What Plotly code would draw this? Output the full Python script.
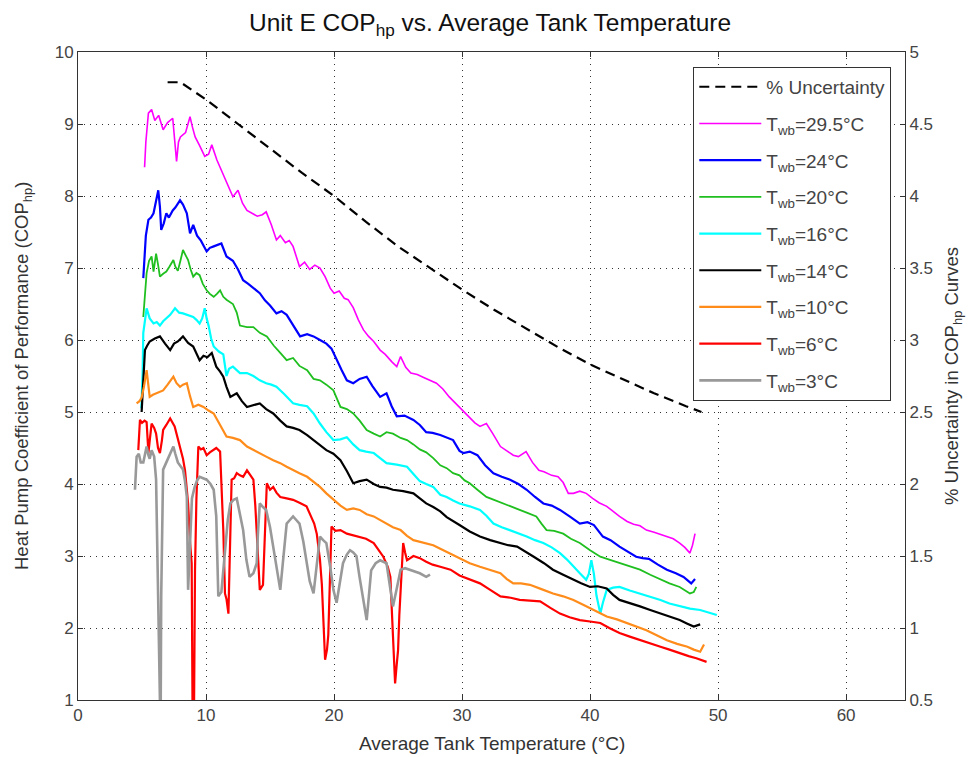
import plotly.graph_objects as go

# ---------------- data ----------------
uncertainty = [(7.0,4.79),(8.0,4.79),(9.0,4.73),(10.0,4.67),(12.5,4.50),(15.0,4.33),(17.5,4.16),
               (20.0,4.00),(22.5,3.82),(25.0,3.65),(27.5,3.50),(30.0,3.35),(32.5,3.21),(35.0,3.08),
               (37.5,2.95),(40.0,2.83),(42.5,2.73),(45.0,2.63),(47.5,2.54),(48.7,2.50)]

t295 = [(5.2,8.40),(5.3,8.75),(5.5,9.15),(5.75,9.20),(6.0,9.05),(6.3,9.12),(6.65,8.92),(7.0,9.02),
        (7.4,9.08),(7.55,8.80),(7.7,8.48),(7.85,8.75),(8.0,8.82),(8.4,8.88),(8.75,9.10),(8.95,8.95),
        (9.15,8.82),(9.5,8.70),(9.9,8.55),(10.2,8.58),(10.45,8.71),(10.85,8.50),(11.2,8.35),(11.6,8.20),
        (12.1,7.99),(12.5,8.08),(12.85,7.90),(13.2,7.80),(13.6,7.76),(14.0,7.72),(14.4,7.74),(14.7,7.78),
        (15.1,7.60),(15.5,7.39),(15.8,7.45),(16.2,7.35),(16.5,7.38),(16.8,7.30),(17.3,7.02),(17.7,7.08),
        (18.1,6.98),(18.5,7.04),(18.9,7.00),(19.3,6.88),(19.7,6.72),(20.0,6.65),(20.4,6.68),(20.8,6.58),
        (21.1,6.56),(21.5,6.45),(21.9,6.28),(22.3,6.14),(22.7,6.05),(23.1,5.98),(23.6,5.86),(24.0,5.80),
        (24.5,5.70),(24.9,5.63),(25.2,5.77),(25.6,5.62),(26.0,5.54),(26.5,5.52),(27.0,5.48),(27.5,5.44),
        (28.0,5.40),(28.5,5.32),(29.0,5.21),(29.5,5.12),(30.0,5.03),(30.5,4.95),(31.0,4.85),(31.4,4.80),
        (31.9,4.84),(32.4,4.70),(33.0,4.52),(33.5,4.46),(34.0,4.40),(34.4,4.38),(35.0,4.45),(35.5,4.30),
        (36.0,4.19),(36.4,4.17),(37.0,4.12),(37.5,4.10),(37.9,4.02),(38.3,3.87),(38.7,3.87),(39.2,3.90),
        (39.7,3.87),(40.2,3.80),(40.7,3.74),(41.3,3.69),(41.8,3.62),(42.3,3.55),(42.9,3.48),(43.4,3.44),
        (43.9,3.42),(44.4,3.36),(45.0,3.33),(45.5,3.30),(46.0,3.27),(46.5,3.24),(47.0,3.18),(47.4,3.12),
        (47.8,3.04),(48.0,3.15),(48.2,3.31)]

t24 = [(5.1,6.86),(5.15,7.05),(5.3,7.45),(5.5,7.67),(5.7,7.70),(5.9,7.76),(6.1,7.95),(6.27,8.08),
       (6.4,7.85),(6.5,7.53),(6.7,7.62),(6.9,7.76),(7.1,7.70),(7.4,7.80),(7.6,7.84),(7.97,7.94),
       (8.2,7.88),(8.5,7.76),(8.75,7.48),(9.0,7.60),(9.3,7.45),(9.6,7.38),(10.05,7.23),(10.3,7.28),
       (10.6,7.30),(10.9,7.32),(11.2,7.34),(11.6,7.16),(12.1,7.10),(12.5,6.98),(12.9,6.83),(13.3,6.78),
       (13.7,6.72),(14.2,6.65),(14.6,6.55),(15.0,6.48),(15.5,6.37),(15.9,6.40),(16.3,6.35),(16.8,6.20),
       (17.35,6.05),(17.9,6.08),(18.4,6.05),(18.9,6.00),(19.4,5.95),(19.8,5.88),(20.2,5.72),(20.6,5.58),
       (21.0,5.44),(21.5,5.40),(22.0,5.46),(22.55,5.49),(23.0,5.36),(23.6,5.21),(24.1,5.26),(24.5,5.08),
       (24.9,4.94),(25.5,4.95),(26.2,4.89),(26.7,4.82),(27.2,4.72),(27.7,4.71),(28.3,4.68),(28.8,4.64),
       (29.3,4.61),(29.8,4.46),(30.1,4.43),(30.6,4.45),(31.2,4.40),(31.8,4.26),(32.45,4.15),(33.1,4.10),
       (33.75,4.06),(34.4,4.00),(35.05,3.92),(35.7,3.82),(36.35,3.73),(37.0,3.70),(37.65,3.64),(38.4,3.55),
       (39.2,3.45),(39.8,3.47),(40.3,3.43),(41.0,3.27),(41.6,3.22),(42.3,3.13),(43.0,3.05),(43.6,2.99),
       (44.1,2.97),(44.6,2.96),(45.3,2.88),(46.0,2.81),(46.7,2.76),(47.3,2.71),(47.9,2.62),(48.2,2.68)]

t20 = [(5.1,6.32),(5.2,6.60),(5.36,6.93),(5.55,7.10),(5.75,7.16),(5.9,6.95),(6.1,7.20),(6.25,7.05),
       (6.4,6.88),(6.65,6.92),(6.9,6.95),(7.15,7.02),(7.45,7.11),(7.6,7.02),(7.8,6.96),(8.0,7.10),
       (8.2,7.25),(8.4,7.18),(8.6,7.11),(8.8,6.98),(9.0,6.88),(9.25,6.93),(9.5,6.90),(9.75,6.78),
       (10.05,6.69),(10.3,6.64),(10.6,6.60),(10.85,6.64),(11.1,6.69),(11.35,6.60),(11.6,6.56),(12.1,6.50),
       (12.4,6.38),(12.65,6.20),(13.2,6.18),(13.7,6.18),(14.2,6.10),(14.75,6.05),(15.3,5.92),(15.8,5.82),
       (16.3,5.72),(16.8,5.75),(17.3,5.64),(17.9,5.58),(18.4,5.46),(18.9,5.44),(19.4,5.38),(19.95,5.30),
       (20.5,5.07),(21.0,5.04),(21.5,4.98),(22.0,4.88),(22.55,4.75),(23.1,4.70),(23.6,4.66),(24.1,4.72),
       (24.6,4.70),(25.2,4.64),(25.7,4.61),(26.2,4.55),(26.7,4.48),(27.2,4.44),(27.75,4.36),(28.3,4.26),
       (28.8,4.22),(29.3,4.15),(29.8,4.12),(30.2,4.05),(30.6,4.01),(31.2,3.92),(31.9,3.82),(32.5,3.78),
       (33.2,3.73),(33.8,3.68),(34.5,3.64),(35.1,3.60),(35.8,3.55),(36.2,3.45),(36.6,3.36),(37.2,3.35),
       (37.9,3.31),(38.5,3.24),(39.2,3.18),(40.0,3.08),(40.8,2.99),(41.5,2.95),(42.3,2.90),(43.1,2.86),
       (43.9,2.81),(44.7,2.74),(45.5,2.67),(46.2,2.62),(47.0,2.57),(47.5,2.52),(47.8,2.48),(48.1,2.50),
       (48.3,2.57)]

t16 = [(4.95,5.05),(5.05,5.55),(5.1,6.10),(5.25,6.30),(5.36,6.44),(5.6,6.30),(5.9,6.23),(6.15,6.25),
       (6.4,6.20),(6.65,6.26),(6.9,6.30),(7.2,6.35),(7.58,6.44),(7.9,6.38),(8.2,6.37),(8.6,6.34),
       (9.0,6.32),(9.25,6.28),(9.5,6.23),(9.7,6.30),(9.9,6.44),(10.05,6.30),(10.2,6.20),(10.4,6.02),
       (10.6,5.91),(11.0,5.84),(11.35,5.80),(11.6,5.50),(11.8,5.60),(12.1,5.63),(12.65,5.54),(13.2,5.54),
       (13.7,5.50),(14.2,5.44),(14.7,5.40),(15.1,5.38),(15.5,5.35),(16.1,5.25),(16.8,5.12),(17.3,5.10),
       (17.9,5.08),(18.4,4.98),(18.9,4.84),(19.4,4.72),(19.95,4.61),(20.5,4.62),(21.0,4.65),(21.5,4.55),
       (22.0,4.47),(22.5,4.45),(23.1,4.43),(23.6,4.36),(24.1,4.29),(24.9,4.27),(25.7,4.24),(26.2,4.14),
       (26.7,4.04),(27.2,4.00),(27.75,3.96),(28.3,3.85),(28.8,3.82),(29.3,3.77),(29.8,3.73),(30.6,3.69),
       (31.4,3.64),(31.9,3.56),(32.45,3.45),(33.1,3.40),(33.75,3.36),(34.4,3.32),(35.05,3.27),(35.7,3.22),
       (36.35,3.18),(37.0,3.12),(37.65,3.04),(38.2,2.95),(38.7,2.85),(39.2,2.76),(39.7,2.67),(39.9,2.75),
       (40.1,2.94),(40.3,2.75),(40.5,2.45),(40.8,2.20),(41.0,2.35),(41.3,2.53),(41.8,2.56),(42.3,2.57),
       (43.1,2.52),(43.9,2.48),(44.7,2.43),(45.5,2.39),(46.2,2.34),(47.0,2.30),(47.8,2.27),(48.6,2.25),
       (49.3,2.21),(49.9,2.18)]

t14 = [(4.97,5.00),(5.1,5.50),(5.23,5.86),(5.4,5.92),(5.6,5.98),(6.0,6.02),(6.4,6.05),(6.8,5.95),
       (7.2,5.86),(7.5,5.95),(7.8,5.98),(8.2,6.05),(8.6,5.96),(9.0,5.91),(9.25,5.82),(9.5,5.72),
       (9.8,5.78),(10.1,5.76),(10.45,5.82),(10.8,5.63),(11.1,5.56),(11.35,5.49),(11.6,5.35),(11.9,5.21),
       (12.4,5.26),(12.8,5.15),(13.2,5.07),(13.7,5.10),(14.2,5.12),(14.7,5.04),(15.25,4.98),(15.8,4.88),
       (16.3,4.80),(16.8,4.78),(17.3,4.75),(17.9,4.68),(18.4,4.61),(18.9,4.54),(19.4,4.47),(19.95,4.42),
       (20.5,4.33),(21.0,4.18),(21.5,4.01),(22.0,4.04),(22.55,4.06),(23.1,4.00),(23.6,3.96),(24.1,3.95),
       (24.6,3.92),(25.4,3.90),(26.2,3.87),(26.7,3.80),(27.2,3.73),(27.75,3.68),(28.3,3.62),(28.8,3.54),
       (29.3,3.48),(29.8,3.43),(30.6,3.34),(31.4,3.27),(32.2,3.22),(33.0,3.18),(33.6,3.15),(34.3,3.13),
       (35.0,3.06),(35.6,2.99),(36.4,2.90),(37.1,2.81),(37.9,2.74),(38.7,2.67),(39.3,2.62),(40.0,2.57),
       (40.6,2.58),(41.3,2.55),(41.8,2.46),(42.3,2.39),(43.1,2.35),(43.9,2.30),(44.7,2.25),(45.5,2.20),
       (46.2,2.15),(47.0,2.11),(47.6,2.06),(48.1,2.02),(48.6,2.05)]

t10 = [(4.58,5.12),(4.8,5.15),(4.97,5.20),(5.15,5.35),(5.36,5.58),(5.5,5.35),(5.6,5.21),(5.85,5.24),
       (6.1,5.26),(6.4,5.28),(6.65,5.30),(7.0,5.38),(7.45,5.49),(7.7,5.40),(7.97,5.35),(8.2,5.38),
       (8.5,5.40),(8.75,5.22),(9.0,5.07),(9.4,5.10),(9.8,5.07),(10.2,5.02),(10.6,4.98),(11.1,4.82),
       (11.6,4.66),(12.1,4.64),(12.65,4.61),(13.2,4.52),(13.7,4.47),(14.2,4.42),(14.7,4.38),(15.25,4.33),
       (15.8,4.29),(16.3,4.24),(16.8,4.20),(17.3,4.15),(17.9,4.10),(18.4,4.03),(18.9,3.96),(19.4,3.87),
       (19.95,3.78),(20.5,3.70),(21.0,3.64),(21.5,3.66),(22.0,3.64),(22.55,3.58),(23.1,3.55),(23.6,3.50),
       (24.1,3.45),(24.6,3.40),(25.2,3.36),(25.7,3.28),(26.2,3.22),(26.7,3.20),(27.2,3.18),(27.75,3.15),
       (28.3,3.10),(29.0,3.04),(29.8,2.96),(30.6,2.90),(31.4,2.85),(32.2,2.80),(33.0,2.76),(33.5,2.68),
       (34.0,2.62),(34.6,2.62),(35.3,2.60),(36.2,2.54),(37.1,2.48),(37.9,2.44),(38.7,2.39),(39.5,2.32),
       (40.25,2.25),(40.8,2.20),(41.3,2.16),(42.1,2.12),(42.9,2.07),(43.6,2.02),(44.4,1.97),(45.2,1.90),
       (46.0,1.83),(46.8,1.78),(47.6,1.74),(48.1,1.70),(48.6,1.67),(48.9,1.77)]

t6 = [(4.71,4.47),(4.84,4.89),(5.0,4.85),(5.2,4.88),(5.36,4.86),(5.5,4.43),(5.6,4.60),(5.75,4.84),
      (5.95,4.78),(6.1,4.70),(6.25,4.50),(6.4,4.43),(6.55,4.60),(6.65,4.75),(6.9,4.82),(7.2,4.91),
      (7.55,4.80),(7.97,4.52),(8.2,4.35),(8.36,4.19),(8.6,3.73),(8.75,3.20),(8.88,2.90),(8.96,0.50),
      (9.05,0.50),(9.14,2.81),(9.25,3.80),(9.4,4.52),(9.6,4.48),(9.8,4.50),(10.05,4.40),(10.3,4.44),
      (10.55,4.47),(10.8,4.50),(11.1,4.45),(11.25,3.90),(11.35,3.36),(11.48,2.48),(11.6,2.40),(11.75,2.20),
      (11.85,3.00),(12.0,4.06),(12.2,4.08),(12.4,4.15),(12.65,4.12),(12.9,4.10),(13.2,4.19),(13.45,4.12),
      (13.7,4.06),(13.85,3.70),(13.96,3.36),(14.05,2.90),(14.2,2.53),(14.45,2.60),(14.6,3.30),(14.75,4.01),
      (15.0,3.92),(15.25,3.96),(15.5,3.88),(15.8,3.82),(16.3,3.80),(16.8,3.78),(17.3,3.74),(17.85,3.69),
      (18.2,3.55),(18.45,3.45),(18.65,3.31),(18.9,2.95),(19.05,2.60),(19.17,2.10),(19.3,1.56),(19.45,1.70),
      (19.55,1.90),(19.7,2.80),(19.8,3.41),(20.1,3.35),(20.5,3.36),(21.0,3.31),(21.5,3.29),(22.0,3.27),
      (22.5,3.24),(23.1,3.18),(23.5,3.08),(23.85,2.99),(24.2,2.85),(24.4,2.71),(24.5,2.30),(24.6,1.97),
      (24.77,1.23),(24.9,1.50),(25.0,1.69),(25.1,2.18),(25.25,2.80),(25.4,3.18),(25.55,3.05),(25.7,2.94),
      (26.2,3.00),(26.7,2.97),(27.2,2.92),(27.7,2.88),(28.3,2.85),(29.1,2.81),(29.8,2.73),(30.6,2.68),
      (31.4,2.62),(32.2,2.53),(33.0,2.44),(33.8,2.42),(34.5,2.39),(35.3,2.38),(36.1,2.37),(36.9,2.28),
      (37.65,2.20),(38.4,2.15),(39.2,2.11),(40.0,2.09),(40.8,2.07),(41.5,2.00),(42.3,1.93),(43.1,1.88),
      (43.9,1.83),(44.7,1.78),(45.5,1.74),(46.2,1.70),(47.0,1.65),(47.7,1.61),(48.3,1.58),(48.7,1.56),
      (49.1,1.53)]

t3 = [(4.45,3.92),(4.58,4.38),(4.75,4.42),(4.9,4.30),(5.1,4.30),(5.25,4.45),(5.36,4.52),(5.5,4.40),
      (5.6,4.35),(5.75,4.47),(5.95,4.38),(6.1,4.06),(6.2,3.08),(6.3,1.80),(6.4,0.50),(6.45,0.50),
      (6.5,2.44),(6.58,3.60),(6.65,4.20),(6.9,4.30),(7.2,4.42),(7.45,4.52),(7.6,4.42),(7.8,4.30),
      (8.0,4.25),(8.2,4.20),(8.35,4.05),(8.5,3.82),(8.6,2.53),(8.75,3.10),(8.9,3.80),(9.1,3.95),
      (9.3,4.05),(9.5,4.10),(9.8,4.08),(10.05,4.06),(10.35,4.00),(10.6,3.92),(10.8,3.55),(10.96,2.44),
      (11.2,2.50),(11.45,3.00),(11.7,3.50),(11.9,3.73),(12.15,3.78),(12.4,3.80),(12.65,3.60),(12.9,3.36),
      (13.15,2.95),(13.4,2.71),(13.7,2.76),(13.96,2.90),(14.05,3.30),(14.2,3.73),(14.45,3.68),(14.7,3.64),
      (15.0,3.40),(15.25,3.13),(15.5,2.80),(15.8,2.53),(16.0,2.90),(16.15,3.20),(16.3,3.45),(16.55,3.50),
      (16.8,3.55),(17.05,3.50),(17.3,3.45),(17.6,3.20),(17.85,2.90),(18.1,2.65),(18.4,2.48),(18.65,2.90),
      (18.9,3.27),(19.15,3.22),(19.4,3.18),(19.7,2.85),(19.95,2.53),(20.2,2.35),(20.45,2.60),(20.7,2.90),
      (21.0,3.02),(21.25,3.08),(21.5,3.05),(21.75,3.00),(22.0,2.70),(22.3,2.34),(22.55,2.11),(22.75,2.50),
      (22.9,2.80),(23.25,2.90),(23.6,2.94),(24.1,2.90),(24.35,2.60),(24.6,2.30),(24.9,2.55),(25.2,2.81),
      (25.55,2.83),(25.9,2.81),(26.3,2.78),(26.7,2.76),(27.2,2.71),(27.5,2.74)]

series_labels = ["29.5", "24", "20", "16", "14", "10", "6", "3"]
series_data = [t295, t24, t20, t16, t14, t10, t6, t3]
series_colors = ["#ff00ff", "#0000ff", "#1fbf1f", "#00ffff", "#000000", "#ff8c1a", "#ff0000", "#999999"]
series_widths = [1.6, 2.2, 1.8, 2.2, 2.2, 2.2, 2.2, 2.6]

x_ticks = [0, 10, 20, 30, 40, 50, 60]

FONT = "Liberation Sans, Arial, sans-serif"

fig = go.Figure()

ux, uy = zip(*uncertainty)
fig.add_trace(go.Scatter(x=ux, y=uy, yaxis="y2", mode="lines", name="% Uncertainty",
                         legendgroup="u", line=dict(color="black", width=2.2, dash="10px,6px")))

for lab, dat, col, w in zip(series_labels, series_data, series_colors, series_widths):
    xs, ys = zip(*dat)
    fig.add_trace(go.Scatter(x=xs, y=ys, mode="lines", name=f"T<sub>wb</sub>={lab}°C",
                             legendgroup=lab, line=dict(color=col, width=w)))

axis_common = dict(showline=True, linecolor="#333", linewidth=1, ticks="inside", ticklen=5,
                   tickcolor="#333", tickfont=dict(family=FONT, size=17, color="#444"), zeroline=False)

fig.update_layout(
    width=972, height=757,
    margin=dict(l=78, r=67, t=52, b=57),
    paper_bgcolor="white", plot_bgcolor="white",
    font=dict(family=FONT, color="#333"),
    showlegend=True,
    legend=dict(x=0.744, y=0.977, xanchor="left", yanchor="top", bgcolor="white",
                bordercolor="#333", borderwidth=1, font=dict(family=FONT, size=19, color="#444"),
                tracegroupgap=9, itemwidth=62),
    xaxis=dict(range=[0, 64.6], tickvals=x_ticks, mirror="ticks", showgrid=True,
               gridcolor="#333", griddash="1px,5px", gridwidth=1, **axis_common),
    yaxis=dict(range=[1, 10], dtick=1, showgrid=True, gridcolor="#333", griddash="1px,5px",
               gridwidth=1, **axis_common),
    yaxis2=dict(range=[0.5, 5], dtick=0.5, overlaying="y", side="right", showgrid=False,
                **axis_common),
    annotations=[
        dict(text="Unit E COP<sub>hp</sub> vs. Average Tank Temperature", x=0.498, y=1 + (52 - 25) / 648,
             xref="paper", yref="paper", xanchor="center", yanchor="middle", showarrow=False,
             font=dict(family=FONT, size=24.5, color="#111")),
        dict(text="Average Tank Temperature (°C)", x=0.5, y=-(743 - 700) / 648, xref="paper",
             yref="paper", xanchor="center", yanchor="middle", showarrow=False,
             font=dict(family=FONT, size=19, color="#333")),
        dict(text="Heat Pump Coefficient of Performance (COP<sub>hp</sub>)", x=(23 - 78) / 827, y=0.5,
             xref="paper", yref="paper", xanchor="center", yanchor="middle", textangle=-90,
             showarrow=False, font=dict(family=FONT, size=18.5, color="#333")),
        dict(text="% Uncertainty in COP<sub>hp</sub> Curves", x=(953 - 78) / 827, y=0.5, xref="paper",
             yref="paper", xanchor="center", yanchor="middle", textangle=-90, showarrow=False,
             font=dict(family=FONT, size=18.5, color="#333")),
    ],
)

fig.write_html("out.html")
